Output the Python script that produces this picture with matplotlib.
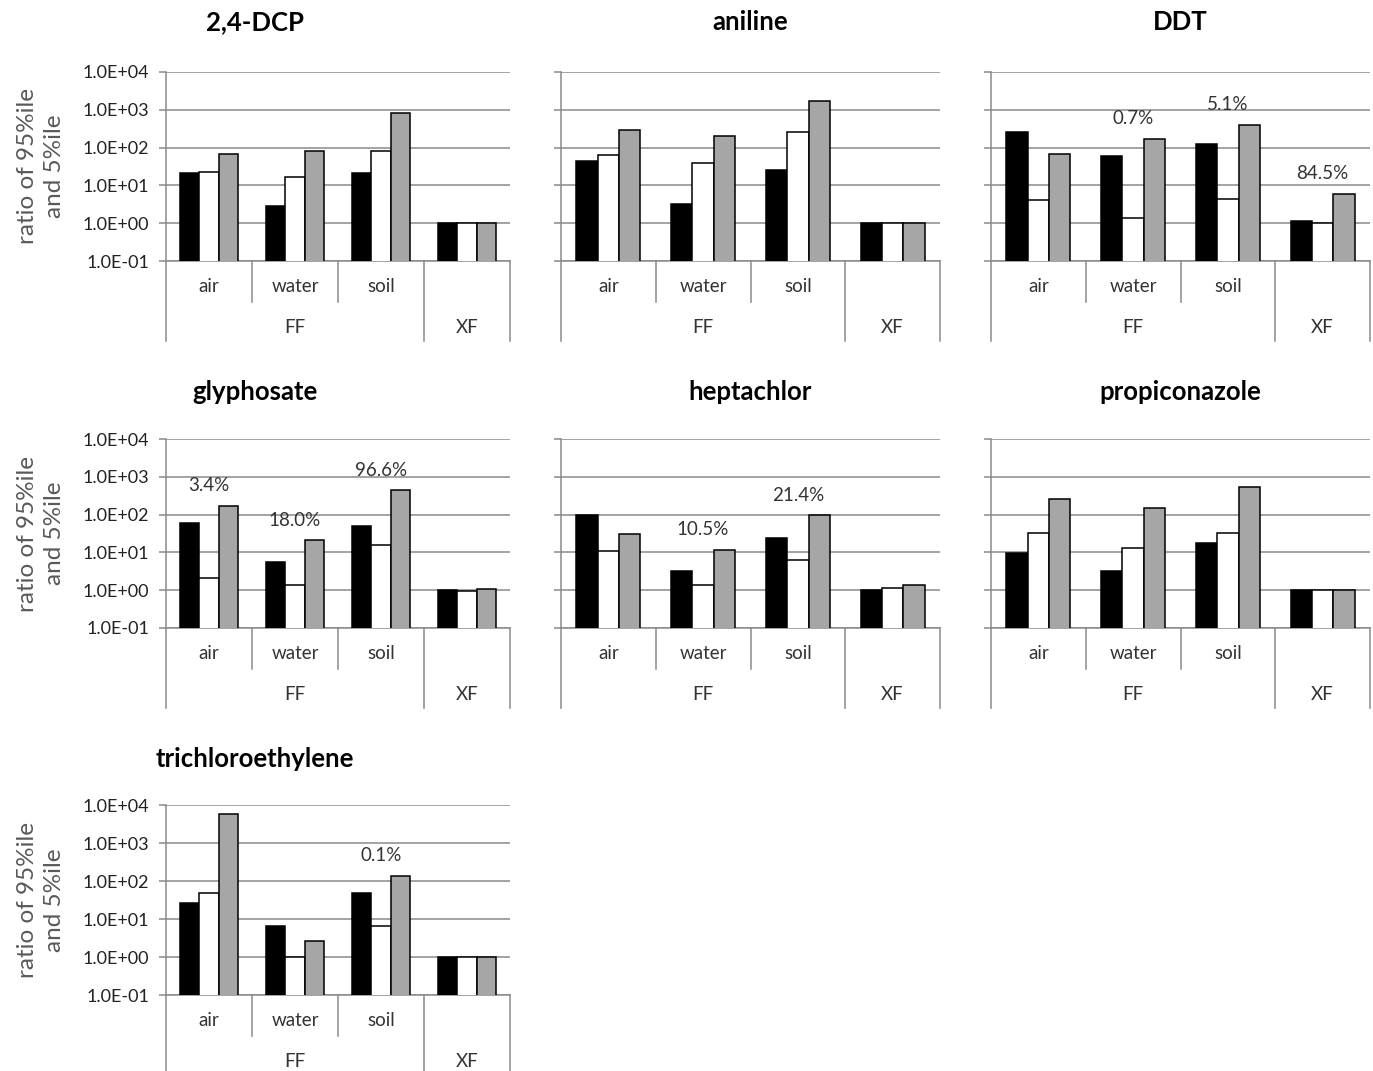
import numpy as np
import matplotlib.pyplot as plt
from matplotlib.ticker import FixedLocator, FuncFormatter, NullLocator

plt.rcParams['font.family'] = ['Lato', 'DejaVu Sans']

groups = ['air', 'water', 'soil', '']
outer = ['FF', 'XF']
ticks = [1e-1, 1e0, 1e1, 1e2, 1e3, 1e4]

# rows: black, white, gray bars; columns: air, water, soil (FF) and XF
dcp = [[21, 2.9, 21, 1.0],
       [23, 17, 82, 1.0],
       [66, 82, 800, 1.0]]
aniline = [[45, 3.3, 26, 1.0],
           [65, 39, 258, 1.0],
           [290, 208, 1730, 1.0]]
ddt = [[263, 61, 125, 1.15],
       [4.0, 1.38, 4.4, 1.0],
       [67, 173, 395, 6.0]]
glyphosate = [[60, 5.5, 50, 1.0],
              [2.1, 1.38, 15.6, 0.98],
              [172, 21, 437, 1.1]]
heptachlor = [[98, 3.3, 24.5, 1.0],
              [10.7, 1.4, 6.3, 1.15],
              [30, 11.5, 96, 1.4]]
propiconazole = [[9.6, 3.3, 18, 1.0],
                 [33, 12.9, 33, 1.0],
                 [251, 150, 525, 1.0]]
tce = [[26, 6.7, 48, 1.0],
       [48, 1.0, 6.6, 1.0],
       [5900, 2.6, 138, 1.0]]

# percentage labels above the groups
pct_dcp = ['', '', '', '']
pct_aniline = ['', '', '', '']
pct_ddt = ['', '0.7%', '5.1%', '84.5%']
pct_glyphosate = ['3.4%', '18.0%', '96.6%', '']
pct_heptachlor = ['', '10.5%', '21.4%', '']
pct_propiconazole = ['', '', '', '']
pct_tce = ['', '', '0.1%', '']

titles = ['2,4-DCP', 'aniline', 'DDT', 'glyphosate', 'heptachlor',
          'propiconazole', 'trichloroethylene']
data = [dcp, aniline, ddt, glyphosate, heptachlor, propiconazole, tce]
pcts = [pct_dcp, pct_aniline, pct_ddt, pct_glyphosate, pct_heptachlor,
        pct_propiconazole, pct_tce]

W, H = 1373, 1071
fig = plt.figure(figsize=(W / 100, H / 100), dpi=100)

grid_c = '#8a8a8a'
txt_c = '#333333'
bar_colors = ['black', 'white', '#a6a6a6']

# pixel boxes of the plot areas
col_x = [(166, 510), (561, 940), (991, 1370)]
row_y = [(72, 261), (439, 628), (805, 995)]
title_x = [255, 750, 1180]
title_y = [22, 392, 759]


def fmt(v, pos):
    return f'{v:.1E}'


for n, (title, vals, pct) in enumerate(zip(titles, data, pcts)):
    r, c = divmod(n, 3)
    x0, x1 = col_x[c]
    y0, y1 = row_y[r]
    ax = fig.add_axes([x0 / W, 1 - y1 / H, (x1 - x0) / W, (y1 - y0) / H])
    vals = np.array(vals)
    x = np.arange(4)
    w = 0.225
    for k in range(3):
        ax.bar(x + (k - 1) * w, vals[k], w, color=bar_colors[k],
               edgecolor='black', linewidth=1.1, zorder=3)

    ax.set_yscale('log')
    ax.set_ylim(0.1, 1e4)
    ax.set_xlim(-0.5, 3.5)
    ax.yaxis.set_major_locator(FixedLocator(ticks))
    ax.yaxis.set_minor_locator(NullLocator())
    ax.yaxis.set_major_formatter(FuncFormatter(fmt))
    ax.grid(axis='y', color=grid_c, linewidth=1.1, zorder=0)
    ax.set_axisbelow(True)
    ax.set_xticks([])
    ax.tick_params(axis='y', length=5, width=1.1, color=grid_c,
                   labelsize=13, labelcolor='#222222', pad=7)
    if c != 0:
        ax.tick_params(axis='y', labelleft=False)
    for s in ['top', 'right']:
        ax.spines[s].set_visible(False)
    for s in ['left', 'bottom']:
        ax.spines[s].set_color(grid_c)
        ax.spines[s].set_linewidth(1.1)

    # category table under the axis
    trans = ax.get_xaxis_transform()
    h1 = 41 / (y1 - y0)
    h2 = 80 / (y1 - y0)
    for xs, depth in [(-0.5, h2), (0.5, h1), (1.5, h1), (2.5, h2), (3.5, h2)]:
        ax.plot([xs, xs], [0, -depth], transform=trans, clip_on=False,
                color=grid_c, linewidth=1.1)
    for i, g in enumerate(groups):
        ax.text(i, -0.135, g, transform=trans, ha='center', va='center',
                fontsize=13.5, color=txt_c)
    ax.text(1.0, -0.35, outer[0], transform=trans, ha='center', va='center',
            fontsize=13.5, color=txt_c)
    ax.text(3.0, -0.35, outer[1], transform=trans, ha='center', va='center',
            fontsize=13.5, color=txt_c)

    for i, t in enumerate(pct):
        if t:
            ax.annotate(t, xy=(i, vals[:, i].max()), xytext=(0, 14.5),
                        textcoords='offset points', ha='center', va='center',
                        fontsize=13.5, color=txt_c)

    fig.text(title_x[c] / W, 1 - title_y[r] / H, title, ha='center',
             va='center', fontsize=18.5, fontweight='bold', color='black')

    if c == 0:
        fig.text(41 / W, 1 - (y0 + y1) / 2 / H, 'ratio of 95%ile\nand 5%ile',
                 rotation=90, ha='center', va='center', multialignment='center',
                 fontsize=17.5, linespacing=1.35, color='#595959')

fig.savefig('out.png', dpi=100)
